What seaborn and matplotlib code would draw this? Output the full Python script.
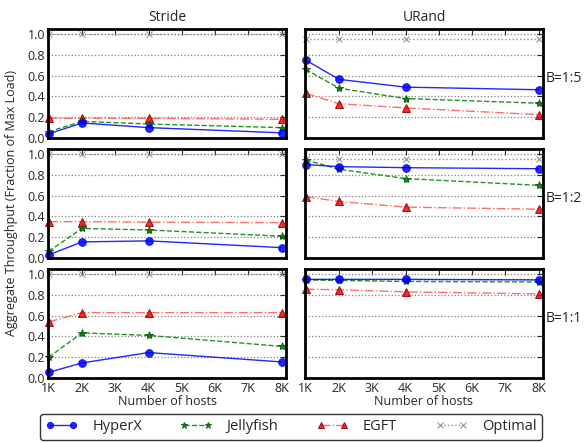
import matplotlib
matplotlib.use("Agg")
import matplotlib.pyplot as plt
import seaborn as sns
import pandas as pd

sns.set_style("white")
plt.rcParams['font.family'] = ['Open Sans', 'DejaVu Sans']

hosts = [1024, 2048, 4096, 8192]
tick_pos = [1024 * k for k in range(1, 9)]
tick_labels = ["1K", "2K", "3K", "4K", "5K", "6K", "7K", "8K"]
ratios = ["B=1:5", "B=1:2", "B=1:1"]
patterns = ["Stride", "URand"]

# throughput values per (ratio, pattern)
hyperx = {
    ("B=1:5", "Stride"): [0.04, 0.145, 0.10, 0.05],
    ("B=1:5", "URand"): [0.75, 0.565, 0.49, 0.465],
    ("B=1:2", "Stride"): [0.03, 0.155, 0.165, 0.10],
    ("B=1:2", "URand"): [0.90, 0.88, 0.87, 0.86],
    ("B=1:1", "Stride"): [0.055, 0.145, 0.245, 0.155],
    ("B=1:1", "URand"): [0.95, 0.95, 0.95, 0.945],
}
jellyfish = {
    ("B=1:5", "Stride"): [0.06, 0.16, 0.135, 0.10],
    ("B=1:5", "URand"): [0.66, 0.48, 0.38, 0.335],
    ("B=1:2", "Stride"): [0.065, 0.285, 0.27, 0.21],
    ("B=1:2", "URand"): [0.945, 0.855, 0.765, 0.70],
    ("B=1:1", "Stride"): [0.20, 0.435, 0.41, 0.305],
    ("B=1:1", "URand"): [0.945, 0.94, 0.93, 0.925],
}
egft = {
    ("B=1:5", "Stride"): [0.19, 0.19, 0.19, 0.18],
    ("B=1:5", "URand"): [0.43, 0.33, 0.29, 0.225],
    ("B=1:2", "Stride"): [0.35, 0.35, 0.345, 0.34],
    ("B=1:2", "URand"): [0.59, 0.545, 0.49, 0.47],
    ("B=1:1", "Stride"): [0.54, 0.63, 0.63, 0.63],
    ("B=1:1", "URand"): [0.855, 0.85, 0.83, 0.81],
}
optimal = {
    "Stride": [1.0, 1.0, 1.0, 1.0],
    "URand": [0.955, 0.955, 0.955, 0.955],
}

styles = {
    "HyperX": dict(color="blue", linestyle="-", marker="o", markersize=5.5,
                   markerfacecolor="blue", markeredgecolor="blue"),
    "Jellyfish": dict(color="green", linestyle="--", marker="*", markersize=6,
                      markerfacecolor="darkgreen", markeredgecolor="darkgreen", dashes=(6, 3)),
    "EGFT": dict(color="#ff5555", linestyle="-.", marker="^", markersize=5.5,
                 markerfacecolor="red", markeredgecolor="darkred", dashes=(5, 2, 1, 2)),
    "Optimal": dict(color="gray", linestyle=":", marker="x", markersize=5,
                    markerfacecolor="gray", markeredgecolor="gray"),
}

fig = plt.figure(figsize=(5.85, 4.43), dpi=100)
W, H = 585.0, 443.0
lefts = [48, 305]
width = 238
tops = [29, 149, 269]
height = 109

handles = {}
for r, ratio in enumerate(ratios):
    for c, pat in enumerate(patterns):
        ax = fig.add_axes([lefts[c] / W, 1 - (tops[r] + height) / H, width / W, height / H])
        series = {
            "HyperX": hyperx[(ratio, pat)],
            "Jellyfish": jellyfish[(ratio, pat)],
            "EGFT": egft[(ratio, pat)],
            "Optimal": optimal[pat],
        }
        for name in ["Optimal", "EGFT", "Jellyfish", "HyperX"]:
            df = pd.DataFrame({"hosts": hosts, "tput": series[name]})
            sns.lineplot(data=df, x="hosts", y="tput", ax=ax, lw=1.0, alpha=0.85,
                         label=name, legend=False, clip_on=False, **styles[name])
        handles = {l.get_label(): l for l in ax.get_lines()}
        ax.set_xlim(1000, 8330)
        ax.set_ylim(0, 1.05)
        ax.set_xticks(tick_pos)
        ax.set_yticks([0, 0.2, 0.4, 0.6, 0.8, 1.0])
        ax.yaxis.grid(True, linestyle=":", color="gray", lw=0.9)
        ax.tick_params(direction="in", top=True, right=True, length=4, width=0.8,
                       labelsize=9, pad=2)
        ax.tick_params(axis="x", pad=3)
        for s in ax.spines.values():
            s.set_linewidth(2)
            s.set_color("black")
        ax.set_xlabel("")
        ax.set_ylabel("")
        if r == 2:
            ax.set_xticklabels(tick_labels)
            ax.set_xlabel("Number of hosts", fontsize=9, labelpad=0)
        else:
            ax.set_xticklabels([])
        if c == 0:
            ax.set_yticklabels(["0.0", "0.2", "0.4", "0.6", "0.8", "1.0"])
        else:
            ax.set_yticklabels([])
            ax.text(1.01, 0.55, ratio, transform=ax.transAxes, fontsize=10,
                    ha="left", va="center")
        if r == 0:
            ax.set_title(pat, fontsize=10, pad=6)

fig.text(12 / W, 1 - 203 / H, "Aggregate Throughput (Fraction of Max Load)",
         rotation=90, ha="center", va="center", fontsize=9)

order = ["HyperX", "Jellyfish", "EGFT", "Optimal"]
leg = fig.legend([handles[n] for n in order], order, loc="center",
                 bbox_to_anchor=(291 / W, 1 - 427 / H), ncol=4, fontsize=10.5,
                 frameon=True, edgecolor="black", fancybox=True, numpoints=2,
                 markerscale=0.8, handlelength=2.2, handletextpad=1.0,
                 columnspacing=2.6, borderpad=0.35)
leg.get_frame().set_linewidth(1.0)

fig.savefig("out.png", dpi=100)
